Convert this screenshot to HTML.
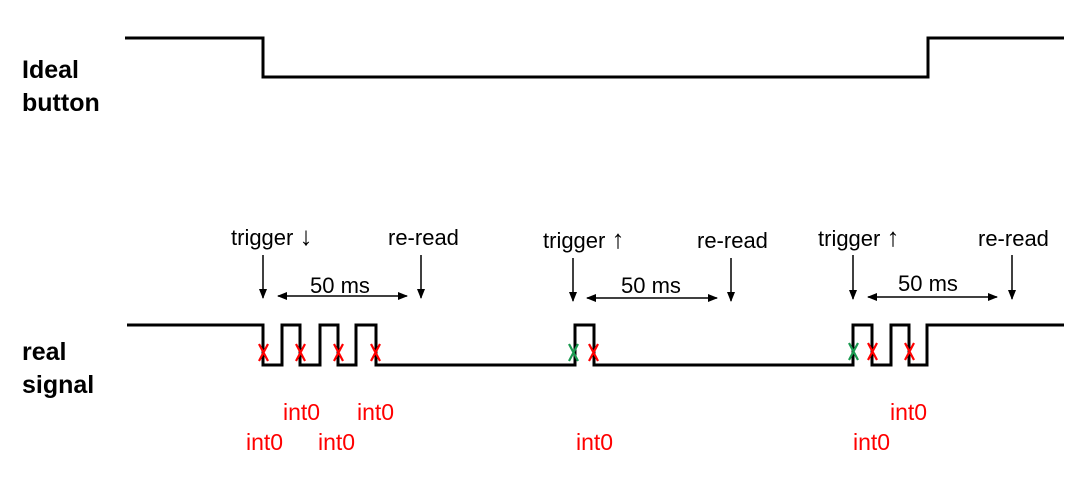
<!DOCTYPE html>
<html><head><style>
body{margin:0;background:#fff;}
svg{display:block;font-family:"Liberation Sans",sans-serif;}
.t{font-size:22px;fill:#000;}
.r{font-size:23px;fill:#f00;}
.b{font-size:25px;font-weight:bold;fill:#000;}
</style></head><body>
<svg width="1089" height="477" viewBox="0 0 1089 477">
<defs>
<marker id="a" markerWidth="10" markerHeight="8" refX="9" refY="4" orient="auto" markerUnits="userSpaceOnUse"><path d="M0,0 L10,4 L0,8 Z" fill="#000"/></marker>
<marker id="s" markerWidth="10" markerHeight="8" refX="1" refY="4" orient="auto" markerUnits="userSpaceOnUse"><path d="M10,0 L0,4 L10,8 Z" fill="#000"/></marker>
</defs>
<polyline points="125,38 263,38 263,77 928,77 928,38 1064,38" fill="none" stroke="#000" stroke-width="3"/>
<polyline points="127,325 263,325 263,365 282,365 282,325 300,325 300,365 320,365 320,325 338,325 338,365 356,365 356,325 376,325 376,365 575,365 575,325 594,325 594,365 853,365 853,325 872,325 872,365 891,365 891,325 909,325 909,365 927,365 927,325 1064,325" fill="none" stroke="#000" stroke-width="3"/>
<text class="b" x="22" y="78">Ideal</text>
<text class="b" x="22" y="111">button</text>
<text class="b" x="22" y="360">real</text>
<text class="b" x="22" y="393">signal</text>
<g stroke="#000" stroke-width="1.5">
<line x1="263" y1="255" x2="263" y2="298" marker-end="url(#a)"/>
<line x1="421" y1="255" x2="421" y2="298" marker-end="url(#a)"/>
<line x1="278" y1="296" x2="407" y2="296" marker-start="url(#s)" marker-end="url(#a)"/>
<line x1="573" y1="258" x2="573" y2="301" marker-end="url(#a)"/>
<line x1="731" y1="258" x2="731" y2="301" marker-end="url(#a)"/>
<line x1="587" y1="298" x2="717" y2="298" marker-start="url(#s)" marker-end="url(#a)"/>
<line x1="853" y1="255" x2="853" y2="299" marker-end="url(#a)"/>
<line x1="1012" y1="255" x2="1012" y2="299" marker-end="url(#a)"/>
<line x1="868" y1="297" x2="997" y2="297" marker-start="url(#s)" marker-end="url(#a)"/>
</g>
<text class="t" x="231" y="245">trigger <tspan font-size="26">↓</tspan></text>
<text class="t" x="388" y="245">re-read</text>
<text class="t" x="310" y="293">50 ms</text>
<text class="t" x="543" y="248">trigger <tspan font-size="26">↑</tspan></text>
<text class="t" x="697" y="248">re-read</text>
<text class="t" x="621" y="293">50 ms</text>
<text class="t" x="818" y="246">trigger <tspan font-size="26">↑</tspan></text>
<text class="t" x="978" y="246">re-read</text>
<text class="t" x="898" y="291">50 ms</text>
<g stroke-width="2.2">
<path d="M259,344 L268,361 M268,344 L259,361" stroke="#f00"/>
<path d="M296,344 L305,361 M305,344 L296,361" stroke="#f00"/>
<path d="M334,344 L343,361 M343,344 L334,361" stroke="#f00"/>
<path d="M371,344 L380,361 M380,344 L371,361" stroke="#f00"/>
<path d="M569,344 L578,361 M578,344 L569,361" stroke="#1a9a50"/>
<path d="M589,344 L598,361 M598,344 L589,361" stroke="#f00"/>
<path d="M849,343 L858,360 M858,343 L849,360" stroke="#1a9a50"/>
<path d="M868,343 L877,360 M877,343 L868,360" stroke="#f00"/>
<path d="M905,343 L914,360 M914,343 L905,360" stroke="#f00"/>
</g>
<text class="r" x="283" y="420">int0</text>
<text class="r" x="357" y="420">int0</text>
<text class="r" x="246" y="450">int0</text>
<text class="r" x="318" y="450">int0</text>
<text class="r" x="576" y="450">int0</text>
<text class="r" x="890" y="420">int0</text>
<text class="r" x="853" y="450">int0</text>
</svg>
</body></html>
